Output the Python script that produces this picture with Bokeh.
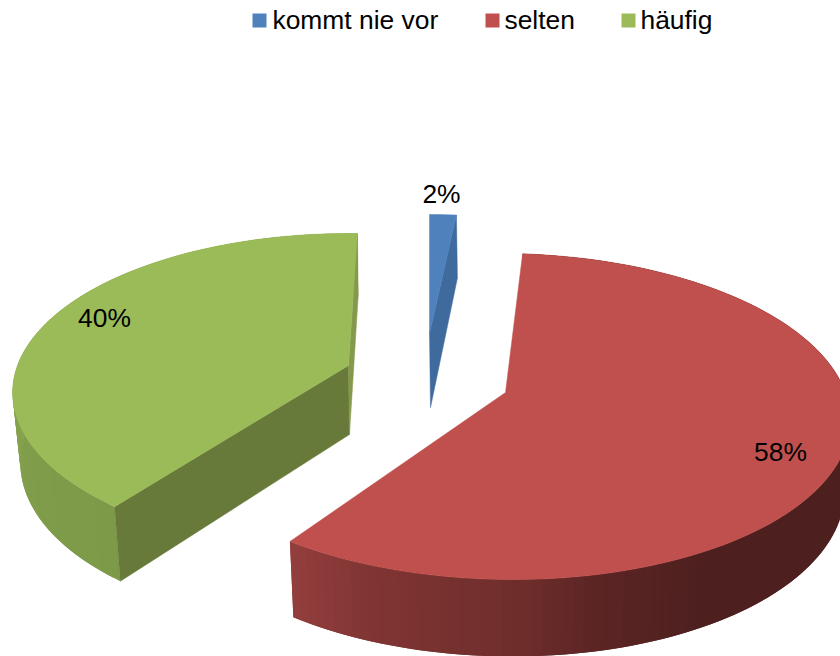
import math
import numpy as np
from bokeh.plotting import figure
from bokeh.embed import file_html
from bokeh.resources import INLINE
from bokeh.core.properties import value

categories = ["kommt nie vor", "selten", "häufig"]
percent = [2, 58, 40]
top_colors = ["#4F81BD", "#C0504D", "#9BBB59"]

# --- drawing geometry, not data -------------------------------------------
W, H = 840, 656
FONT = value("Liberation Sans")
TEXT_SHIFT = -9.5
FONT_SIZE = "26.4px"

SLICE = {
    "kommt nie vor": dict(cx=429, cy=333, A=300, B=136.5, k=0.147, q=0.0, d0=74, dv=11, s=0.0, dxb=1,
                          a0=0.0, gain=0.82, wall=None, start_face=None, end_face="#3F6A9E"),
    "selten": dict(cx=505, cy=392, A=341, B=159.5, k=0.147, q=0.01, d0=70, dv=7, s=0.016, dxb=0,
                   a0=3.3, gain=210.4 / 208.8,
                   wall=([0, 150, 167, 177, 200, 215], ["#4D201F", "#4D201F", "#5C2524", "#6D2D2B", "#803533", "#95403F"]),
                   start_face=None, end_face=None),
    "häufig": dict(cx=348, cy=365, A=331, B=154.4, k=0.17, q=0.0, d0=69, dv=7, s=0.02, dxb=1,
                   a0=217.7, gain=1.0007,
                   wall=([217, 240, 270, 300], ["#7C9A48", "#7F9C4A", "#86A34F", "#86A34F"]),
                   start_face="#687A39", end_face="#85994D"),
}
LEGEND = [(252, 272), (485, 504), (621, 640)]
LEGEND_TOP, LEGEND_SIZE, LEGEND_BASE = 13, 14, 29
LABELS = [(441, 203), (780, 461), (104, 327)]


def rim(g, deg):
    t = math.radians(deg)
    u, v = math.sin(t), -math.cos(t)
    w = 1 - g["k"] * v
    dx = g["A"] * u / w
    return g["cx"] + dx, g["cy"] + g["B"] * v / w + g["q"] * dx, v


def base(g, deg):
    x, y, v = rim(g, deg)
    return g["cx"] + g["dxb"] + (x - g["cx"]) * (1 - g["s"]), y + g["d0"] + g["dv"] * v


def hex2rgb(c):
    return np.array([int(c[i:i + 2], 16) for i in (1, 3, 5)], float)


def ramp(stops, deg):
    pos, cols = stops
    rgb = [np.interp(deg, pos, [hex2rgb(c)[i] for c in cols]) for i in range(3)]
    return "#%02x%02x%02x" % tuple(int(round(c)) for c in rgb)


p = figure(width=W, height=H, x_range=(0, W), y_range=(H, 0),
           output_backend="svg", toolbar_location=None, min_border=0)
p.axis.visible = False
p.grid.visible = False
p.outline_line_color = None
p.background_fill_color = "white"

cum = np.cumsum([0] + percent) * 3.6
for i, name in enumerate(categories):
    g = SLICE[name]
    span = (cum[i + 1] - cum[i]) * g["gain"]
    a0, a1 = g["a0"], g["a0"] + span
    degs = np.linspace(a0, a1, max(int(span / 1.5), 2) + 1)

    if g["wall"]:
        # each strip reaches under the next one, so no seams show between them
        lap = degs[1] - degs[0]
        xs, ys, cs = [], [], []
        for d0, d1 in zip(degs[:-1], degs[1:]):
            d2 = min(d1 + lap, a1)
            r0, r1, b1, b0 = rim(g, d0), rim(g, d2), base(g, d2), base(g, d0)
            xs.append([r0[0], r1[0], b1[0], b0[0]])
            ys.append([r0[1], r1[1], b1[1], b0[1]])
            cs.append(ramp(g["wall"], (d0 + d1) / 2))
        p.patches(xs, ys, fill_color=cs, line_color=None)

    cb = (g["cx"] + g["dxb"], g["cy"] + g["d0"])
    for deg, col in ((a0, g["start_face"]), (a1, g["end_face"])):
        if col:
            r, b = rim(g, deg), base(g, deg)
            p.patch([g["cx"], r[0], b[0], cb[0]], [g["cy"], r[1], b[1], cb[1]],
                    fill_color=col, line_color=col, line_width=0.5)

    pts = [rim(g, d) for d in degs]
    p.patch([g["cx"]] + [q[0] for q in pts], [g["cy"]] + [q[1] for q in pts],
            fill_color=top_colors[i], line_color=top_colors[i], line_width=0.5)

    # legend entry
    sx, tx = LEGEND[i]
    p.quad(left=[sx], right=[sx + LEGEND_SIZE], top=[LEGEND_TOP], bottom=[LEGEND_TOP + LEGEND_SIZE],
           fill_color=top_colors[i], line_color=None)
    p.text([tx], [LEGEND_BASE + TEXT_SHIFT], text=[name], text_font=FONT, text_font_size=FONT_SIZE,
           text_color="#000000", text_align="left", text_baseline="alphabetic")
    # data label
    lx, ly = LABELS[i]
    p.text([lx], [ly + TEXT_SHIFT], text=[f"{percent[i]}%"], text_font=FONT, text_font_size=FONT_SIZE,
           text_color="#000000", text_align="center", text_baseline="alphabetic")

open("out.html", "w").write(file_html(p, INLINE))
